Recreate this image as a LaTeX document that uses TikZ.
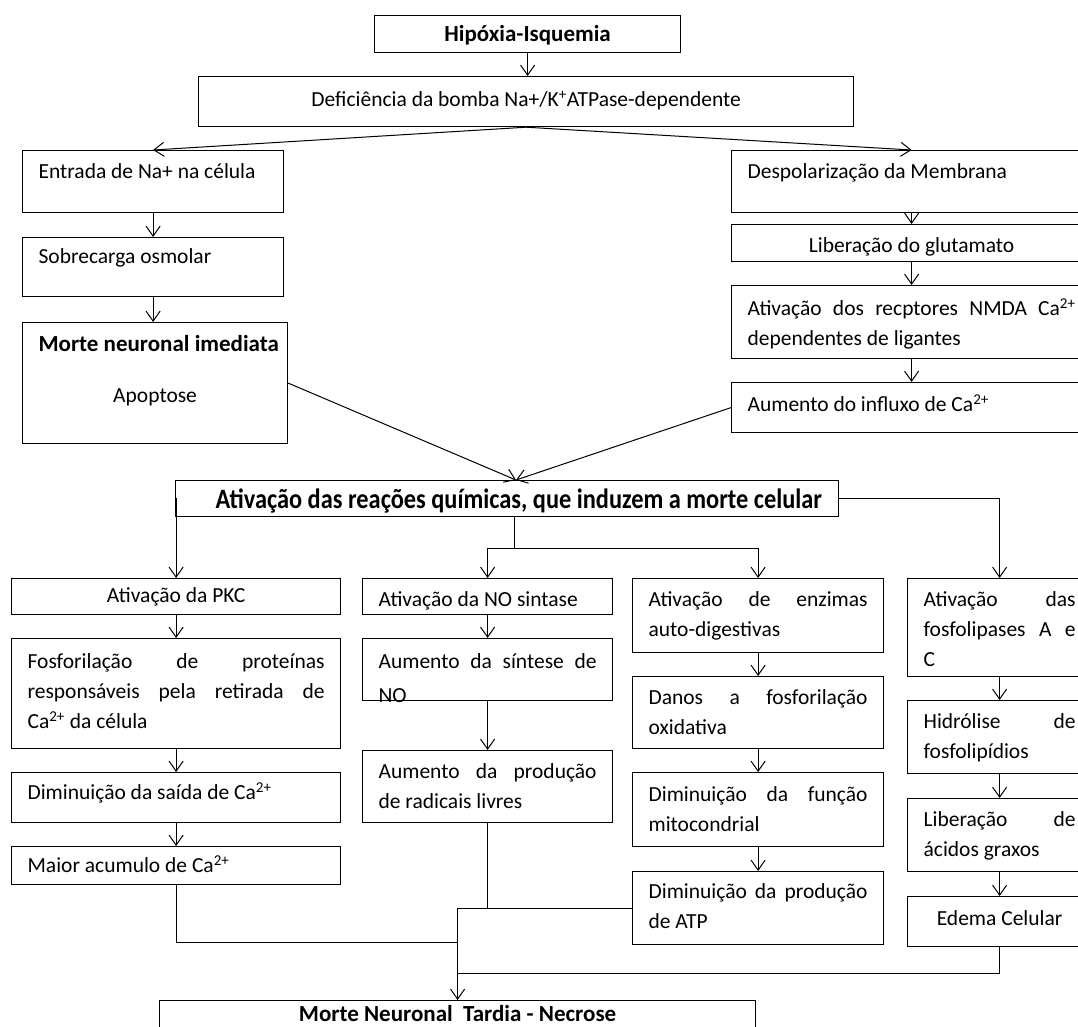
\documentclass[tikz,border=0pt]{standalone}
\usepackage{fontspec}
\setmainfont{Carlito}
\usepackage{tikz}
\usetikzlibrary{arrows.meta}

\newcommand{\letra}{\fontsize{21.5}{30}\selectfont}
\newcommand{\titulo}{\fontsize{23}{30}\selectfont\bfseries}

\tikzset{
    caixa/.style={draw, line width=1.2pt, anchor=north west, inner xsep=16pt, inner ysep=0pt, font=\letra},
    seta/.style={-{Straight Barb[length=10pt,width=14pt]}, line width=1pt},
    linha/.style={line width=1pt}
}

% #1 baseline of first line, #2 name, #3/#4 top left, #5/#6 bottom right, #7 text
\newcommand{\caixa}[7][28]{%
    \node[caixa] (#2) at (#3,#4)
        {\parbox[t][\dimexpr#6pt-#4pt\relax][t]{\dimexpr#5pt-#3pt-32pt\relax}{\rule{0pt}{#1pt}#7}};%
}

\begin{document}
\begin{tikzpicture}[x=1pt, y=-1pt]
    \useasboundingbox (0,0) rectangle (1078,1026);

    % top
    \caixa[26]{hipo}{374}{15}{680}{52}{\centering\titulo Hipóxia-Isquemia}
    \caixa[30]{defi}{198}{76}{853}{126}{\centering Deficiência da bomba Na+/K\textsuperscript{+}ATPase-dependente}

    % left column
    \caixa{entr}{22}{150}{283}{212}{Entrada de Na+ na célula}
    \caixa[26]{sobr}{22}{237}{283}{296}{Sobrecarga osmolar}
    \caixa[29]{imed}{22}{322}{287}{443}{{\titulo\mbox{Morte neuronal imediata}\par}\vspace{21pt}{\centering Apoptose\par}}

    % right column
    \caixa{desp}{731}{150}{1091}{212}{Despolarização da Membrana}
    \caixa{glut}{731}{224}{1091}{261}{\centering Liberação do glutamato}
    \caixa[30]{nmda}{731}{285}{1091}{358}{Ativação dos recptores NMDA Ca\textsuperscript{2+}\linebreak dependentes de ligantes}
    \caixa[29]{infl}{731}{382}{1091}{432}{Aumento do influxo de Ca\textsuperscript{2+}}

    % chemical reactions
    \caixa{reac}{175}{480}{838}{516}{\hspace*{24pt}\scalebox{0.87}[1]{\fontsize{28}{30}\selectfont\bfseries Ativação das reações químicas, que induzem a morte celular}}

    % four branches
    \caixa[24]{pkc}{11}{578}{340}{614}{\centering Ativação da PKC}
    \caixa[30]{fosf}{11}{638}{340}{748}{Fosforilação de proteínas\linebreak responsáveis pela retirada de\linebreak Ca\textsuperscript{2+} da célula}
    \caixa[27]{said}{11}{772}{340}{822}{Diminuição da saída de Ca\textsuperscript{2+}}
    \caixa[26]{acum}{11}{846}{340}{884}{Maior acumulo de Ca\textsuperscript{2+}}

    \caixa{nosi}{362}{578}{612}{614}{Ativação da NO sintase}
    \caixa[30]{sint}{362}{638}{612}{700}{Aumento da síntese de\vspace{4pt}\linebreak NO}
    \caixa{radi}{362}{750}{612}{822}{Aumento da produção\linebreak de radicais livres}

    \caixa{enzi}{632}{578}{883}{652}{Ativação de enzimas\linebreak auto-digestivas}
    \caixa{dano}{632}{676}{883}{748}{Danos a fosforilação\linebreak oxidativa}
    \caixa[29]{mito}{632}{772}{883}{846}{Diminuição da função\linebreak mitocondrial}
    \caixa[27]{atp}{632}{871}{883}{944}{Diminuição da produção\linebreak de ATP}

    \caixa{fosl}{907}{578}{1091}{676}{Ativação das\linebreak fosfolipases A e\linebreak C}
    \caixa{hidr}{907}{700}{1091}{773}{Hidrólise de\linebreak fosfolipídios}
    \caixa{libe}{907}{798}{1091}{871}{Liberação de\linebreak ácidos graxos}
    \caixa[29]{edem}{907}{896}{1091}{946}{\centering Edema Celular}

    % bottom
    \caixa[21]{tard}{159}{1000}{755}{1040}{\centering\titulo Morte Neuronal\ \ Tardia - Necrose}

    % arrows
    \draw[seta] (hipo.south) -- (hipo.south |- defi.north);
    \draw[seta] (defi.south) -- (entr.north);
    \draw[seta] (defi.south) -- (desp.north);

    \foreach \a/\b in {entr/sobr, sobr/imed, desp/glut, glut/nmda, nmda/infl,
                       pkc/fosf, fosf/said, said/acum, nosi/sint, sint/radi,
                       enzi/dano, dano/mito, mito/atp, fosl/hidr, hidr/libe, libe/edem}
    {
        \draw[seta] (\a.south) -- (\a.south |- \b.north);
    }

    \coordinate (alvo) at (516,480);
    \draw[seta] (imed.east) -- (alvo);
    \draw[seta] (infl.west) -- (alvo);

    \draw[seta] (reac.west) -| (pkc.north);
    \draw[seta] (reac.east) -| (fosl.north);
    \coordinate (ramo) at (514,548);
    \draw[linha] (ramo |- reac.south) -- (ramo);
    \draw[seta] (ramo) -| (nosi.north);
    \draw[seta] (ramo) -| (enzi.north);

    % joining lines
    \coordinate (jB) at (atp.west -| tard.north);
    \coordinate (jC) at (457,942);
    \coordinate (jD) at (457,973);
    \draw[linha] (radi.south) -- (radi.south |- atp.west);
    \draw[linha] (atp.west) -- (jB);
    \draw[linha] (acum.south) |- (jC);
    \draw[linha] (edem.south) |- (jD);
    \draw[seta] (jB) -- (tard.north);
\end{tikzpicture}
\end{document}
